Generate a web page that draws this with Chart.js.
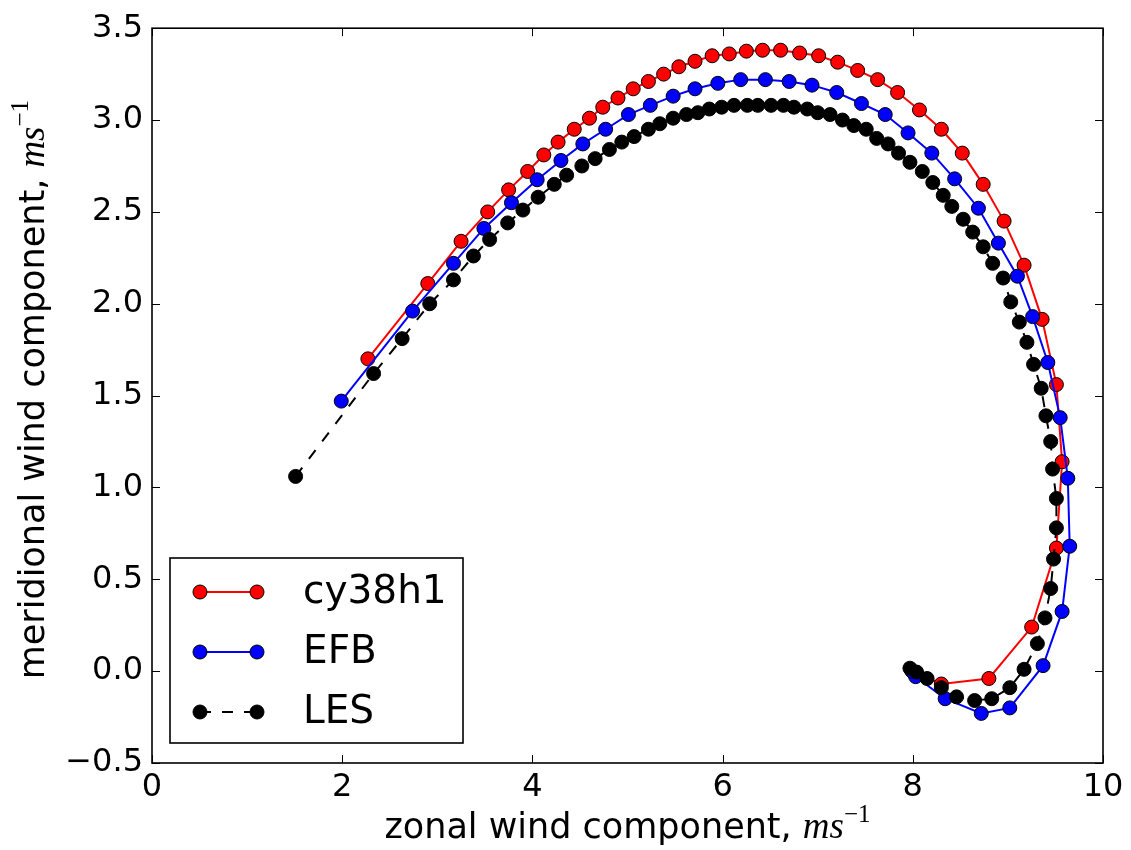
<!DOCTYPE html>
<html>
<head>
<meta charset="utf-8">
<script src="https://cdn.jsdelivr.net/npm/chart.js@4.4.0/dist/chart.umd.min.js"></script>
<style>
  html, body { margin: 0; padding: 0; background: #fff; }
</style>
</head>
<body>
<canvas id="hodo" width="1131" height="850"></canvas>
<script>
// hodograph: zonal (u) vs meridional (v) wind, m/s
const cyU = [2.27, 2.90, 3.25, 3.53, 3.75, 3.95, 4.12, 4.27, 4.44, 4.60, 4.74, 4.90, 5.06, 5.22, 5.38, 5.54, 5.71, 5.89, 6.07, 6.25, 6.42, 6.61, 6.81, 7.01, 7.21, 7.42, 7.63, 7.84, 8.07, 8.30, 8.52, 8.74, 8.96, 9.17, 9.36, 9.51, 9.57, 9.51, 9.25, 8.80, 8.30, 8.00];
const cyV = [1.70, 2.11, 2.34, 2.50, 2.62, 2.72, 2.81, 2.88, 2.95, 3.01, 3.07, 3.12, 3.17, 3.21, 3.25, 3.29, 3.32, 3.35, 3.36, 3.375, 3.38, 3.38, 3.365, 3.35, 3.315, 3.27, 3.22, 3.15, 3.055, 2.95, 2.82, 2.65, 2.45, 2.21, 1.915, 1.56, 1.14, 0.67, 0.24, -0.04, -0.07, 0.00];

const efbU = [1.99, 2.74, 3.17, 3.49, 3.78, 4.05, 4.30, 4.53, 4.77, 5.01, 5.24, 5.48, 5.71, 5.95, 6.19, 6.45, 6.70, 6.94, 7.20, 7.46, 7.71, 7.95, 8.20, 8.44, 8.69, 8.90, 9.10, 9.26, 9.42, 9.55, 9.63, 9.65, 9.57, 9.37, 9.02, 8.72, 8.34, 8.03, 7.99];
const efbV = [1.47, 1.96, 2.22, 2.41, 2.55, 2.675, 2.78, 2.87, 2.95, 3.03, 3.08, 3.13, 3.17, 3.20, 3.22, 3.22, 3.21, 3.19, 3.15, 3.09, 3.03, 2.93, 2.82, 2.68, 2.52, 2.33, 2.15, 1.93, 1.68, 1.38, 1.05, 0.68, 0.325, 0.03, -0.20, -0.23, -0.15, -0.03, 0.00];

const lesU = [1.51, 2.33, 2.63, 2.92, 3.17, 3.38, 3.55, 3.74, 3.90, 4.06,
              4.23, 4.36, 4.52, 4.66, 4.81, 4.94, 5.07, 5.22, 5.34, 5.48,
              5.62, 5.74, 5.86, 5.99, 6.12, 6.26, 6.37, 6.51, 6.64, 6.75,
              6.89, 7.00, 7.13, 7.26, 7.38, 7.51, 7.62, 7.74, 7.85, 7.97,
              8.10, 8.21, 8.32, 8.41, 8.53, 8.63, 8.74, 8.84, 8.95, 9.03,
              9.12, 9.20, 9.27, 9.35, 9.40, 9.45, 9.47, 9.51, 9.51, 9.48,
              9.45, 9.39, 9.31, 9.17, 9.02, 8.83, 8.65, 8.46, 8.30, 8.15,
              8.04, 7.97];
const lesV = [1.06, 1.62, 1.81, 2.00, 2.13, 2.26, 2.35, 2.44, 2.51, 2.58,
              2.65, 2.70, 2.75, 2.79, 2.84, 2.88, 2.91, 2.95, 2.98, 3.01,
              3.03, 3.04, 3.06, 3.07, 3.08, 3.08, 3.08, 3.08, 3.08, 3.07,
              3.06, 3.04, 3.03, 3.00, 2.97, 2.95, 2.90, 2.87, 2.82, 2.77,
              2.72, 2.66, 2.59, 2.53, 2.46, 2.39, 2.31, 2.22, 2.14, 2.01,
              1.90, 1.79, 1.67, 1.54, 1.39, 1.25, 1.10, 0.94, 0.78, 0.61,
              0.45, 0.29, 0.15, 0.01, -0.09, -0.15, -0.16, -0.14, -0.09, -0.04,
              -0.005, 0.016];

const xTicks = [0, 2, 4, 6, 8, 10];
const yTicks = [-0.5, 0.0, 0.5, 1.0, 1.5, 2.0, 2.5, 3.0, 3.5];

const MINUS = '\u2212';

function pairs(u, v) {
    return u.map(function (x, i) { return {x: x, y: v[i]}; });
}

// mixed-font text run (plain + italic math + superscript), centred on x
function drawRun(ctx, parts, x, y) {
    let total = 0;
    parts.forEach(function (p) { ctx.font = p.font; total += ctx.measureText(p.text).width; });
    let cx = x - total / 2;
    ctx.textAlign = 'left';
    ctx.textBaseline = 'alphabetic';
    parts.forEach(function (p) {
        ctx.font = p.font;
        ctx.fillText(p.text, cx, y + (p.dy || 0));
        cx += ctx.measureText(p.text).width;
    });
}

function unitParts(label) {
    return [
        {text: label, font: '35px "DejaVu Sans"'},
        {text: 'ms', font: 'italic 37px "Liberation Serif"'},
        {text: MINUS + '1', font: '25px "Liberation Serif"', dy: -16}
    ];
}

const legendItems = [
    {label: 'cy38h1', color: '#ff0000', dash: []},
    {label: 'EFB', color: '#0000ff', dash: []},
    {label: 'LES', color: '#000000', dash: [11, 11]}
];

const framePlugin = {
    id: 'frame',
    afterDraw(chart) {
        const ctx = chart.ctx;
        const a = chart.chartArea;
        const xs = chart.scales.x, ys = chart.scales.y;
        ctx.save();
        ctx.strokeStyle = '#000';
        ctx.lineWidth = 1;
        // inward ticks on all four sides
        ctx.beginPath();
        xTicks.forEach(function (v) {
            const px = Math.round(xs.getPixelForValue(v)) + 0.5;
            ctx.moveTo(px, a.bottom); ctx.lineTo(px, a.bottom - 8);
            ctx.moveTo(px, a.top); ctx.lineTo(px, a.top + 8);
        });
        yTicks.forEach(function (v) {
            const py = Math.round(ys.getPixelForValue(v)) + 0.5;
            ctx.moveTo(a.left, py); ctx.lineTo(a.left + 8, py);
            ctx.moveTo(a.right, py); ctx.lineTo(a.right - 8, py);
        });
        ctx.stroke();
        ctx.lineWidth = 1.6;
        ctx.strokeRect(a.left, a.top, a.right - a.left, a.bottom - a.top);

        // axis titles
        ctx.fillStyle = '#000';
        drawRun(ctx, unitParts('zonal wind component, '), (a.left + a.right) / 2, 838);
        ctx.translate(44, (a.top + a.bottom) / 2 - 6);
        ctx.rotate(-Math.PI / 2);
        drawRun(ctx, unitParts('meridional wind component, '), 0, 0);
        ctx.restore();

        // legend box, lower left inside the axes
        ctx.save();
        const bx = a.left + 18, by = a.bottom - 205, bw = 293, bh = 185;
        ctx.fillStyle = '#fff';
        ctx.fillRect(bx, by, bw, bh);
        ctx.strokeStyle = '#000';
        ctx.lineWidth = 1.6;
        ctx.strokeRect(bx, by, bw, bh);
        legendItems.forEach(function (it, i) {
            const cy = by + 34 + i * 60;
            const x0 = bx + 30, x1 = bx + 87;
            ctx.strokeStyle = it.color;
            ctx.lineWidth = 2;
            ctx.setLineDash(it.dash);
            ctx.beginPath();
            ctx.moveTo(x0, cy); ctx.lineTo(x1, cy);
            ctx.stroke();
            ctx.setLineDash([]);
            [x0, x1].forEach(function (mx) {
                ctx.beginPath();
                ctx.arc(mx, cy, 7, 0, Math.PI * 2);
                ctx.fillStyle = it.color;
                ctx.fill();
                ctx.lineWidth = 1;
                ctx.strokeStyle = '#000';
                ctx.stroke();
            });
            ctx.fillStyle = '#000';
            ctx.font = '39px "DejaVu Sans"';
            ctx.textAlign = 'left';
            ctx.textBaseline = 'middle';
            ctx.fillText(it.label, bx + 133, cy + 1);
        });
        ctx.restore();
    }
};

function series(label, u, v, color, dash, order) {
    return {
        label: label,
        data: pairs(u, v),
        showLine: true,
        borderColor: color,
        borderWidth: 2,
        borderDash: dash,
        pointRadius: 7,
        pointHoverRadius: 7,
        pointBorderWidth: 1,
        pointBackgroundColor: color,
        pointBorderColor: '#000',
        order: order
    };
}

const data = {
    datasets: [
        series('cy38h1', cyU, cyV, '#ff0000', [], 2),
        series('EFB', efbU, efbV, '#0000ff', [], 1),
        series('LES', lesU, lesV, '#000000', [11, 11], 0)
    ]
};

const tickFont = {family: 'DejaVu Sans', size: 32};

const config = {
    type: 'scatter',
    data,
    options: {
        responsive: false,
        animation: false,
        devicePixelRatio: 1,
        layout: {padding: {left: 0, top: 26, right: 28, bottom: 0}},
        scales: {
            x: {
                type: 'linear',
                min: 0,
                max: 10,
                grid: {display: false, drawTicks: false},
                border: {display: false},
                afterBuildTicks: function (s) { s.ticks = xTicks.map(function (v) { return {value: v}; }); },
                afterFit: function (s) { s.height = 87; },
                ticks: {
                    font: tickFont,
                    color: '#000',
                    padding: 5,
                    autoSkip: false,
                    maxRotation: 0,
                    callback: function (v) { return String(v); }
                }
            },
            y: {
                type: 'linear',
                min: -0.5,
                max: 3.5,
                grid: {display: false, drawTicks: false},
                border: {display: false},
                afterBuildTicks: function (s) { s.ticks = yTicks.map(function (v) { return {value: v}; }); },
                afterFit: function (s) { s.width = 152; },
                ticks: {
                    font: tickFont,
                    color: '#000',
                    padding: 9,
                    autoSkip: false,
                    callback: function (v) { return v.toFixed(1).replace('-', MINUS); }
                }
            }
        },
        plugins: {
            legend: {display: false},
            tooltip: {enabled: false},
            title: {display: false}
        }
    },
    plugins: [framePlugin]
};

const hodoChart = new Chart(document.getElementById('hodo'), config);
</script>
</body>
</html>
